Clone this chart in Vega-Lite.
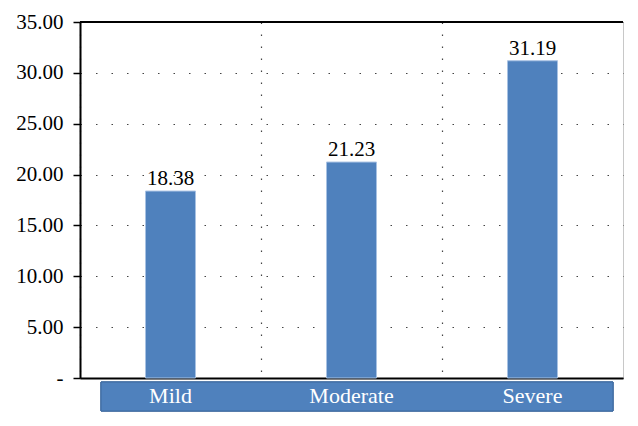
{
  "$schema": "https://vega.github.io/schema/vega-lite/v6.json",
  "width": 543,
  "height": 356,
  "autosize": {"type": "none"},
  "padding": {"left": 80, "top": 22, "right": 15, "bottom": 48},
  "background": "white",
  "view": {"stroke": "#c8c8c8", "strokeWidth": 1},
  "data": {"values": [
    {"severity": "Mild", "value": 18.38},
    {"severity": "Moderate", "value": 21.23},
    {"severity": "Severe", "value": 31.19}
  ]},
  "layer": [
    {
      "mark": {"type": "bar", "size": 50, "color": "#4F81BD", "stroke": "#a8c2e3", "strokeWidth": 1},
      "encoding": {
        "x": {"field": "severity", "type": "nominal", "sort": null,
          "scale": {"paddingInner": 0, "paddingOuter": 0},
          "axis": {"title": null, "labels": false, "ticks": false, "bandPosition": 0,
            "grid": true, "gridColor": "#444", "gridDash": [1.5, 10.5], "gridWidth": 1.2,
            "domain": true, "domainColor": "black", "domainWidth": 2}},
        "y": {"field": "value", "type": "quantitative",
          "scale": {"domain": [0, 35], "nice": false},
          "axis": {"title": null, "values": [0, 5, 10, 15, 20, 25, 30, 35],
            "labelExpr": "datum.value == 0 ? '-' : format(datum.value, '.2f')",
            "labelFont": "Liberation Serif", "labelFontSize": 21, "labelColor": "black",
            "labelPadding": 10, "tickSize": 7, "tickColor": "black", "tickWidth": 1.5,
            "domainColor": "black", "domainWidth": 2,
            "grid": true, "gridColor": "#444", "gridDash": [1.5, 14], "gridWidth": 1.2}}
      }
    },
    {
      "mark": {"type": "text", "baseline": "alphabetic", "dy": -6, "font": "Liberation Serif", "fontSize": 21, "color": "black"},
      "encoding": {
        "x": {"field": "severity", "type": "nominal", "sort": null},
        "y": {"field": "value", "type": "quantitative"},
        "text": {"field": "value", "type": "quantitative", "format": ".2f"}
      }
    },
    {
      "mark": {"type": "rule", "color": "black", "strokeWidth": 2},
      "encoding": {"y": {"datum": 35}}
    },
    {
      "mark": {"type": "rect", "color": "#4F81BD", "stroke": "#3e6aa0", "strokeWidth": 1, "xOffset": -69.5, "x2Offset": 80.5, "yOffset": 4, "y2Offset": 33, "clip": false},
      "encoding": {
        "x": {"datum": "Mild"},
        "x2": {"datum": "Severe"},
        "y": {"datum": 0},
        "y2": {"datum": 0}
      }
    },
    {
      "mark": {"type": "text", "baseline": "alphabetic", "yOffset": 25, "font": "Liberation Serif", "fontSize": 22, "color": "white", "clip": false},
      "encoding": {
        "x": {"field": "severity", "type": "nominal", "sort": null},
        "y": {"datum": 0},
        "text": {"field": "severity"}
      }
    }
  ]
}
